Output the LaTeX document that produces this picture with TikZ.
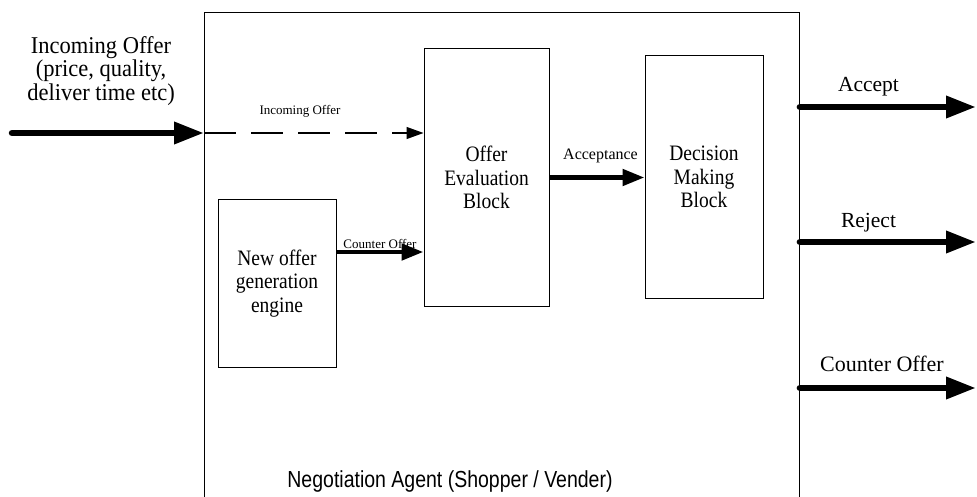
\documentclass[tikz,border=0pt]{standalone}
\usepackage{fontspec}
\usepackage{graphicx}
\setmainfont{Liberation Serif}
\newfontfamily\agentsans{Liberation Sans}
\usetikzlibrary{arrows.meta}

% vertically stretched, centred multi-line text: stretch, width, size, baselineskip, text
\newcommand\tallstack[5]{\scalebox{1}[#1]{\parbox{#2}{\centering\fontsize{#3}{#4}\selectfont\lineskiplimit=-50pt #5}}}
% vertically stretched single line
\newcommand\tallline[2]{\scalebox{1}[#1]{#2}}

\begin{document}
\begin{tikzpicture}[x=1pt,y=-1pt,
  frame/.style={draw, line width=0.9pt, inner sep=0pt},
  block/.style={draw, line width=1pt, inner sep=0pt},
  bigarrow/.style={line width=6.5pt, line cap=round, -{Triangle[length=30pt,width=21pt]}},
  midarrow/.style={line width=4.8pt, -{Triangle[length=22pt,width=16pt]}},
  dasharrow/.style={line width=1.3pt, dash pattern=on 32pt off 15pt, -{Triangle[length=17pt,width=12pt]}},
  biglabel/.style={anchor=base, inner sep=0pt, font=\fontsize{21.5}{22}\selectfont},
  smalllabel/.style={anchor=base, inner sep=0pt}
]
\clip (0,0) rectangle (977,497);
\fill[white] (0,0) rectangle (977,497);

% outer agent frame
\node[frame, minimum width=595pt, minimum height=500pt, anchor=north west] (agent) at (204,12) {};

% inner blocks
\node[block, minimum width=125pt, minimum height=257pt] (eval) at (486.5,177.5)
  {\raisebox{1.5pt}{\tallstack{1.13}{115pt}{19.5}{20.8}{Offer\\Evaluation\\Block}}};
\node[block, minimum width=118pt, minimum height=242pt] (decide) at (704,177)
  {\raisebox{1.5pt}{\tallstack{1.13}{110pt}{19.5}{20.8}{Decision\\Making\\Block}}};
\node[block, minimum width=118pt, minimum height=167pt] (gen) at (277,283.5)
  {\raisebox{-2.5pt}{\tallstack{1.13}{110pt}{19.5}{20.8}{New offer\\generation\\engine}}};

% incoming offer text and arrow
\node[inner sep=0pt] (intext) at (101,70.7)
  {\tallstack{1.07}{200pt}{22.5}{22}{Incoming Offer\\(price, quality,\\deliver time etc)}};
\coordinate (src) at (12,133);
\draw[bigarrow] (src) -- (src -| agent.west);
\draw[dasharrow] (src -| agent.west) -- (src -| eval.west);
\node[smalllabel, font=\fontsize{13}{14}\selectfont] (inlbl) at (300,115) {Incoming Offer};

% counter offer into evaluation
\coordinate (cy) at (0,252);
\draw[midarrow] (gen.east |- cy) -- (eval.west |- cy);
\node[smalllabel, font=\fontsize{13}{14}\selectfont] (colbl) at (380,248) {Counter Offer};

% acceptance into decision block
\draw[midarrow] (eval.east) -- (decide.west |- eval.east);
\node[smalllabel, font=\fontsize{16}{17}\selectfont] (acclbl) at (600.5,160) {Acceptance};

% outputs
\coordinate (accEnd) at (976,107);
\coordinate (rejEnd) at (976,242);
\coordinate (cntEnd) at (976,388);
\draw[bigarrow] (agent.east |- accEnd) -- (accEnd);
\draw[bigarrow] (agent.east |- rejEnd) -- (rejEnd);
\draw[bigarrow] (agent.east |- cntEnd) -- (cntEnd);
\node[biglabel] (acclabel) at (868.5,92) {Accept};
\node[biglabel] (rejlabel) at (868.5,228) {Reject};
\node[biglabel, font=\fontsize{22}{23}\selectfont] (cntlabel) at (882,371) {Counter Offer};

% agent caption
\node[anchor=base, inner sep=0pt] (caption) at (450,487)
  {\tallline{1.19}{\agentsans\fontsize{19.5}{20}\selectfont Negotiation Agent (Shopper / Vender)}};
\end{tikzpicture}
\end{document}
